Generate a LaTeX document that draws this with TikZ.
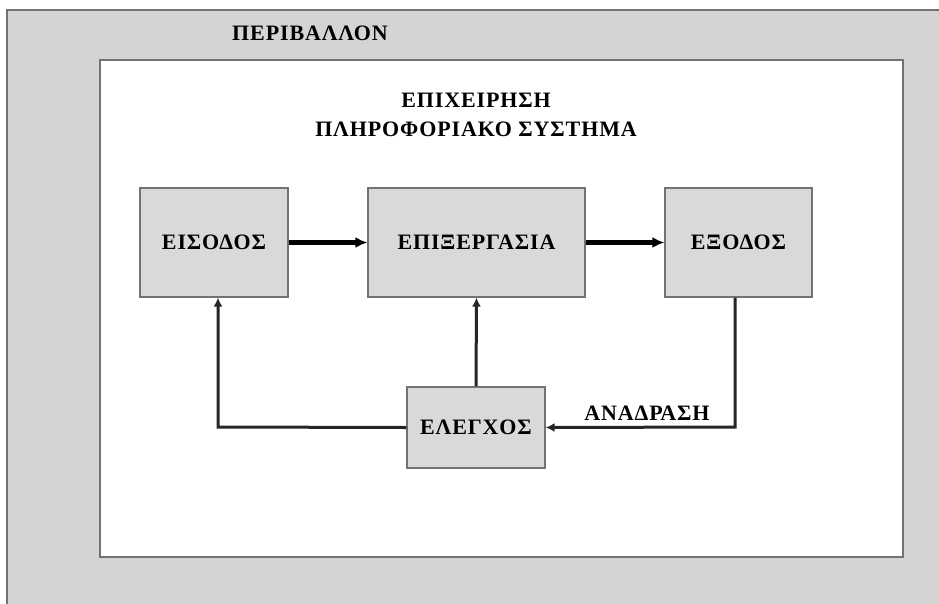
\documentclass[tikz,border=0pt]{standalone}
\usepackage{fontspec}
\setmainfont{Liberation Serif}[LetterSpace=4]
\usetikzlibrary{arrows.meta}
\begin{document}
\begin{tikzpicture}[x=1pt,y=-1pt,
  blk/.style={draw=black!55,line width=1.2pt,fill=black!15,minimum width=#1,minimum height=109pt,inner sep=0pt,
    font=\fontsize{22}{26}\selectfont\bfseries},
  lbl/.style={font=\fontsize{22}{26}\selectfont\bfseries,inner sep=0pt},
  bigarrow/.style={line width=4.5pt,draw=black,-{Latex[length=12pt,width=11pt]}},
  fb/.style={line width=3pt,draw=black!85,-{Latex[length=9pt,width=9pt]}}]
\useasboundingbox (0,0) rectangle (939,603);
\begin{scope}
\clip (0,0) rectangle (939,603);
\fill[white] (0,0) rectangle (939,603);
\draw[draw=black!55,line width=1.5pt,fill=black!17] (7,10) rectangle (960,620);
\draw[draw=black!55,line width=1.8pt,fill=white] (100,60) rectangle (903,557);
\end{scope}
\node[lbl] (env) at (310,33) {ΠΕΡΙΒΑΛΛΟΝ};
\node[lbl,align=center] (title) at (476,115) {ΕΠΙΧΕΙΡΗΣΗ\\[3pt]ΠΛΗΡΟΦΟΡΙΑΚΟ ΣΥΣΤΗΜΑ};
\node[blk=148pt] (in) at (214,242.5) {ΕΙΣΟΔΟΣ};
\node[blk=217pt] (proc) at (476.5,242.5) {ΕΠΙΞΕΡΓΑΣΙΑ};
\node[blk=147pt] (out) at (738.5,242.5) {ΕΞΟΔΟΣ};
\node[blk=138pt,minimum height=81pt] (ctrl) at (476,427.5) {ΕΛΕΓΧΟΣ};
\draw[bigarrow] (in.east) -- (proc.west);
\draw[bigarrow] (proc.east) -- (out.west);
\coordinate (c1) at (735,427);
\draw[fb] (out.south -| c1) -- (c1) -- (ctrl.east);
\draw[fb] (ctrl.north) -- (proc.south);
\coordinate (c2) at (218,427);
\draw[fb] (ctrl.west) -- (c2) -- (in.south -| c2);
\node[lbl,anchor=south] (fbl) at (647,421) {ΑΝΑΔΡΑΣΗ};
\end{tikzpicture}
\end{document}
